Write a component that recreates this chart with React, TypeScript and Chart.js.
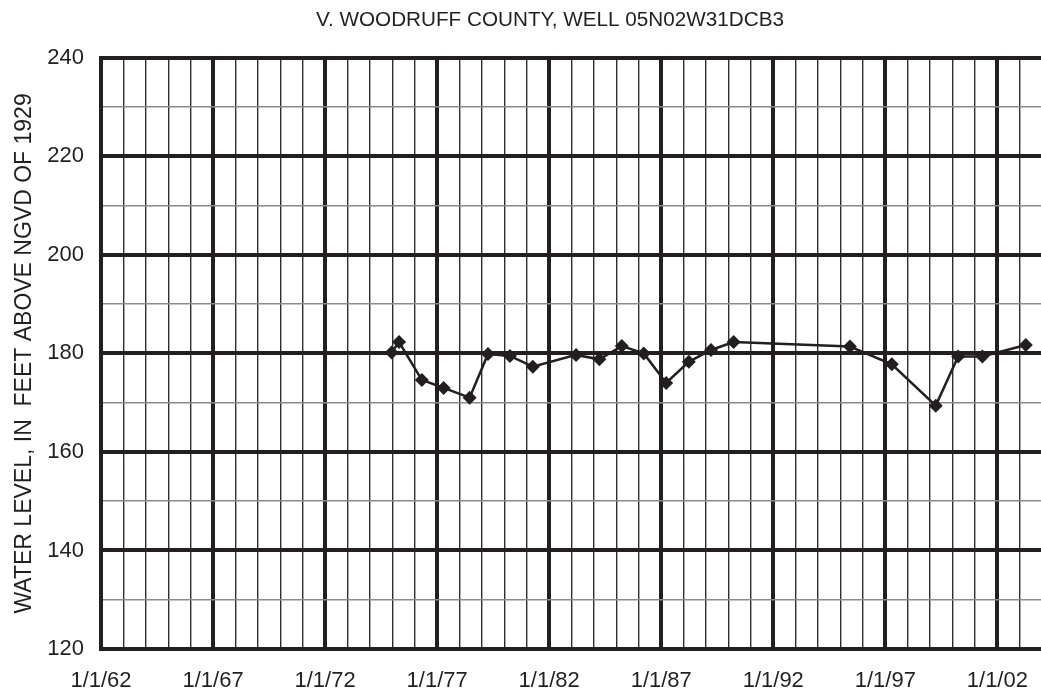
import React, { useEffect, useRef } from 'react';
import { Chart, registerables } from 'chart.js';

Chart.register(...registerables);

const TITLE = 'V. WOODRUFF COUNTY, WELL 05N02W31DCB3';
const Y_TITLE = 'WATER LEVEL, IN  FEET ABOVE NGVD OF 1929';

// Measurement dates (decimal years) and water levels (feet above NGVD of 1929)
const DATES = [
  1974.97, 1975.3, 1976.32, 1977.29, 1978.45, 1979.27, 1980.25, 1981.27,
  1983.2, 1984.24, 1985.24, 1986.22, 1987.22, 1988.23, 1989.22, 1990.23,
  1995.42, 1997.29, 1999.25, 2000.25, 2001.33, 2003.27,
];
const LEVELS = [
  180.2, 182.3, 174.6, 173.0, 171.0, 179.9, 179.5, 177.3,
  179.7, 178.8, 181.5, 180.0, 174.0, 178.3, 180.7, 182.3,
  181.4, 177.8, 169.4, 179.4, 179.4, 181.7,
];

const X_TICK_YEARS = [1962, 1967, 1972, 1977, 1982, 1987, 1992, 1997, 2002];
const X_TICK_LABELS = ['1/1/62', '1/1/67', '1/1/72', '1/1/77', '1/1/82', '1/1/87', '1/1/92', '1/1/97', '1/1/02'];
const Y_TICK_VALUES = [120, 140, 160, 180, 200, 220, 240];
const Y_TICK_LABELS = ['120', '140', '160', '180', '200', '220', '240'];

const X_MIN = 1962;
const X_MAX = 2006.58;
const GRID_LAST_YEAR = 2005;
const Y_MIN = 120;
const Y_MAX = 240;

const DARK = '#231f20';
const FONT = "'Liberation Sans', Arial, Helvetica, sans-serif";

export default function App() {
  const ref = useRef<HTMLCanvasElement | null>(null);

  useEffect(() => {
    if (!ref.current) return;
    const points = DATES.map((d, i) => ({ x: d, y: LEVELS[i] }));
    const chart = new Chart(ref.current, {
      type: 'line',
      data: {
        datasets: [
          {
            data: points,
            borderColor: DARK,
            backgroundColor: DARK,
            borderWidth: 2.5,
            pointStyle: 'rectRot',
            pointRadius: 7,
            pointBackgroundColor: DARK,
            pointBorderColor: DARK,
            pointBorderWidth: 0,
            tension: 0,
            fill: false,
          },
        ],
      },
      options: {
        animation: false,
        responsive: false,
        layout: { autoPadding: false, padding: { left: 0, right: 0, top: 0, bottom: 0 } },
        plugins: {
          legend: { display: false },
          tooltip: { enabled: false },
          title: {
            display: true,
            text: TITLE,
            color: DARK,
            font: { family: FONT, size: 20.7, weight: 'normal' },
            padding: { top: 8, bottom: 25 },
          },
        },
        scales: {
          x: {
            type: 'linear',
            min: X_MIN,
            max: X_MAX,
            afterBuildTicks: (scale: any) => {
              const t = [];
              for (let y = X_MIN; y <= GRID_LAST_YEAR; y++) t.push({ value: y });
              scale.ticks = t;
            },
            afterFit: (scale: any) => {
              scale.height = 47;
            },
            ticks: {
              autoSkip: false,
              maxRotation: 0,
              padding: 19,
              color: DARK,
              font: { family: FONT, size: 22 },
              callback: (v: any) => {
                const i = X_TICK_YEARS.indexOf(Number(v));
                return i >= 0 ? X_TICK_LABELS[i] : '';
              },
            },
            grid: {
              drawTicks: false,
              color: (ctx: any) =>
                ctx.tick && X_TICK_YEARS.includes(ctx.tick.value) ? DARK : '#2e2e2e',
              lineWidth: (ctx: any) =>
                ctx.tick && X_TICK_YEARS.includes(ctx.tick.value) ? 4 : 1.4,
            },
            border: { display: true, color: DARK, width: 4 },
          },
          y: {
            type: 'linear',
            min: Y_MIN,
            max: Y_MAX,
            afterFit: (scale: any) => {
              scale.width = 101;
            },
            ticks: {
              stepSize: 10,
              padding: 17,
              color: DARK,
              font: { family: FONT, size: 22 },
              callback: (v: any) => {
                const i = Y_TICK_VALUES.indexOf(Number(v));
                return i >= 0 ? Y_TICK_LABELS[i] : '';
              },
            },
            grid: {
              drawTicks: false,
              color: (ctx: any) =>
                ctx.tick && Y_TICK_VALUES.includes(ctx.tick.value) ? DARK : '#8a8a8a',
              lineWidth: (ctx: any) =>
                ctx.tick && Y_TICK_VALUES.includes(ctx.tick.value) ? 4 : 1.5,
            },
            border: { display: true, color: DARK, width: 4 },
            title: {
              display: true,
              text: Y_TITLE,
              color: DARK,
              font: { family: FONT, size: 23, weight: 'normal' },
              padding: { top: 11, bottom: 0 },
            },
          },
        },
      },
    });
    return () => chart.destroy();
  }, []);

  return (
    <div
      style={{
        position: 'fixed',
        left: 0,
        top: 0,
        width: 1041,
        height: 696,
        overflow: 'hidden',
        background: '#ffffff',
      }}
    >
      <canvas ref={ref} width={1100} height={696} style={{ display: 'block' }} />
    </div>
  );
}
